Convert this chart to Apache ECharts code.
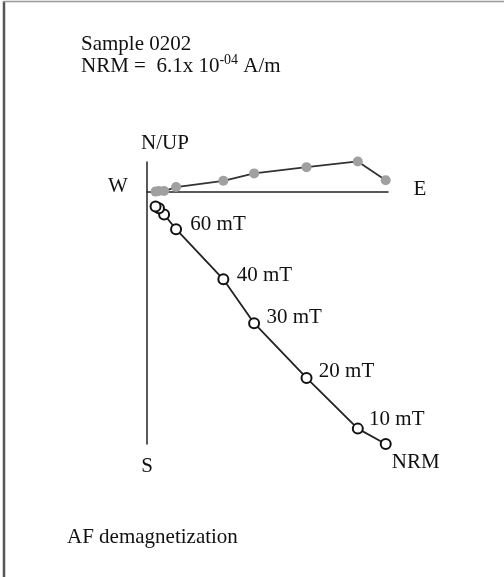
<!DOCTYPE html>
<html>
<head>
<meta charset="utf-8">
<script src="https://cdn.jsdelivr.net/npm/echarts@6/dist/echarts.min.js"></script>
<style>
html,body{margin:0;padding:0;background:#fff;}
#chart{width:504px;height:577px;}
</style>
</head>
<body>
<div id="chart"></div>
<script>
// Demagnetization steps (AF, mT)
const steps = ['NRM', '10 mT', '20 mT', '30 mT', '40 mT', '60 mT', '80 mT', '100 mT', '120 mT'];
const stepLabels = ['NRM', '10 mT', '20 mT', '30 mT', '40 mT', '60 mT', '', '', ''];
// Components in units of 1e-5 A/m
const east  = [41.9, 37.0, 28.0, 18.8, 13.4, 5.1, 3.0, 2.1, 1.5];
const north = [2.1, 5.4, 4.4, 3.3, 2.0, 0.9, 0.2, 0.2, 0.1];
const up    = [-44.2, -41.5, -32.6, -23.0, -15.3, -6.5, -3.9, -2.8, -2.5];
// Axis extents (same units)
const eastMax = 42.3;
const upMin = -44.2;
const upMax = 5.3;

const FONT = '"Liberation Serif", "Times New Roman", serif';
const labelOffsets = {
  'NRM': [30, 18], '10 mT': [39, -9], '20 mT': [40, -6], '30 mT': [40, -6],
  '40 mT': [41, -4], '60 mT': [42, -5]
};

const horizData = east.map((e, i) => [e, north[i]]);
const vertData = east.map((e, i) => {
  const lab = stepLabels[i];
  const item = { value: [e, up[i]], name: steps[i] };
  if (lab) {
    item.label = {
      show: true, formatter: lab, position: 'inside',
      offset: labelOffsets[lab], align: 'center', verticalAlign: 'middle'
    };
  }
  return item;
});

const chart = echarts.init(document.getElementById('chart'), null, { renderer: 'canvas' });
const txt = (x, y, text, align) => ({
  type: 'text', x: x, y: y, silent: true,
  style: { text: text, font: '21px ' + FONT, fill: '#111', align: align || 'center', verticalAlign: 'middle' }
});

chart.setOption({
  animation: false,
  backgroundColor: '#fff',
  grid: { left: 147, top: 162, width: 241, height: 282, containLabel: false },
  xAxis: {
    type: 'value', min: 0, max: eastMax,
    axisLine: { show: true, onZero: true, lineStyle: { color: '#222', width: 1.5 } },
    axisTick: { show: false }, axisLabel: { show: false }, splitLine: { show: false }
  },
  yAxis: {
    type: 'value', min: upMin, max: upMax,
    axisLine: { show: true, onZero: true, lineStyle: { color: '#222', width: 1.5 } },
    axisTick: { show: false }, axisLabel: { show: false }, splitLine: { show: false }
  },
  series: [
    {
      name: 'Horizontal', type: 'line', data: horizData, clip: false,
      symbol: 'circle', symbolSize: 10,
      lineStyle: { color: '#333', width: 1.8 },
      itemStyle: { color: '#a0a0a0', borderWidth: 0 },
      z: 3
    },
    {
      name: 'Vertical', type: 'line', data: vertData, clip: false,
      symbol: 'emptyCircle', symbolSize: 10,
      lineStyle: { color: '#222', width: 1.8 },
      itemStyle: { color: '#111', borderColor: '#111', borderWidth: 1.6 },
      label: { show: false, fontFamily: FONT, fontSize: 21, color: '#111' },
      z: 4
    }
  ],
  graphic: [
    { type: 'line', silent: true, shape: { x1: 4, y1: 1, x2: 4, y2: 577 }, style: { stroke: '#555', lineWidth: 2.5 } },
    { type: 'line', silent: true, shape: { x1: 3, y1: 1.5, x2: 504, y2: 1.5 }, style: { stroke: '#999', lineWidth: 1.5 } },
    {
      type: 'text', x: 81, y: 44, silent: true,
      style: { text: 'Sample 0202', font: '21px ' + FONT, fill: '#111', align: 'left', verticalAlign: 'middle' }
    },
    {
      type: 'text', x: 81, y: 65, silent: true,
      style: {
        text: '{n|NRM =  6.1x 10}{s|-04}{n| A/m}', align: 'left', verticalAlign: 'middle',
        rich: {
          n: { font: '21px ' + FONT, fill: '#111', verticalAlign: 'bottom' },
          s: { font: '14px ' + FONT, fill: '#111', verticalAlign: 'top', padding: [0, 0, 10, 0] }
        }
      }
    },
    txt(165, 143, 'N/UP'),
    txt(118, 186, 'W'),
    txt(420, 189, 'E'),
    txt(147, 466, 'S'),
    txt(67, 537, 'AF demagnetization', 'left')
  ]
});
</script>
</body>
</html>
